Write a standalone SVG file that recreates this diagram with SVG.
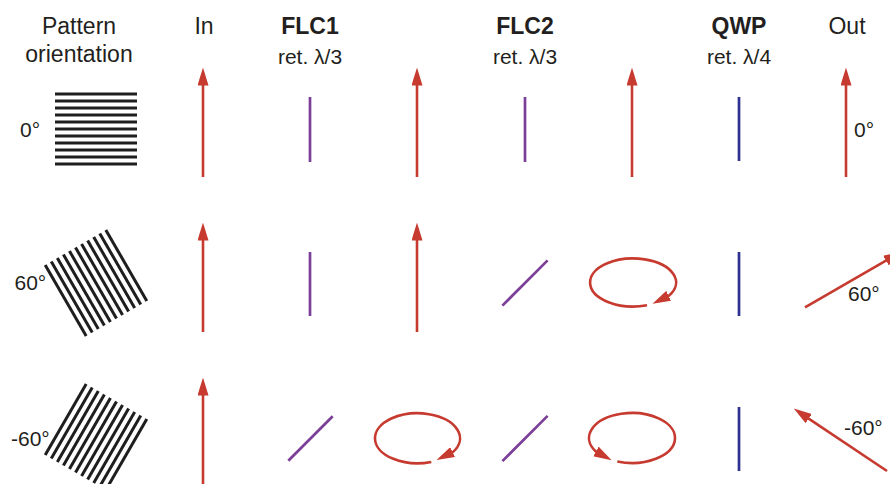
<svg xmlns="http://www.w3.org/2000/svg" xmlns:xlink="http://www.w3.org/1999/xlink" width="890" height="484" viewBox="0 0 890 484">
<style>
text{font-family:"Liberation Sans",Arial,sans-serif;fill:#231f20}
.h{font-size:23px;text-anchor:middle}
.b{font-weight:bold}
.s{font-size:21px;text-anchor:middle}
.d{font-size:21px}
.g line{stroke:#1e1e1e;stroke-width:3}
.arr{stroke:#c63a2f;stroke-width:2.6;fill:none;marker-end:url(#ah)}
.flc{stroke:#7c3f98;stroke-width:2.7}
.qwp{stroke:#2e3192;stroke-width:2.7}
</style>
<defs>
<marker id="ah" markerUnits="userSpaceOnUse" viewBox="0 0 18 11" refX="0.5" refY="5.5" markerWidth="18" markerHeight="11" orient="auto">
<path d="M0,0 L18,5.5 L0,11 z" fill="#c63a2f"/>
</marker>
<g id="grating" class="g">
<line x1="-41" y1="-35" x2="41" y2="-35"/>
<line x1="-41" y1="-28" x2="41" y2="-28"/>
<line x1="-41" y1="-21" x2="41" y2="-21"/>
<line x1="-41" y1="-14" x2="41" y2="-14"/>
<line x1="-41" y1="-7" x2="41" y2="-7"/>
<line x1="-41" y1="0" x2="41" y2="0"/>
<line x1="-41" y1="7" x2="41" y2="7"/>
<line x1="-41" y1="14" x2="41" y2="14"/>
<line x1="-41" y1="21" x2="41" y2="21"/>
<line x1="-41" y1="28" x2="41" y2="28"/>
<line x1="-41" y1="35" x2="41" y2="35"/>
</g>
</defs>

<g id="headers">
<text class="h" x="79" y="33.5">Pattern</text>
<text class="h" x="79" y="62">orientation</text>
<text class="h" x="204" y="34">In</text>
<text class="h b" x="310" y="34">FLC1</text>
<text class="s" x="310" y="64">ret. λ/3</text>
<text class="h b" x="525" y="34">FLC2</text>
<text class="s" x="525" y="64">ret. λ/3</text>
<text class="h b" x="739" y="34">QWP</text>
<text class="s" x="739" y="64">ret. λ/4</text>
<text class="h" x="847" y="34">Out</text>
</g>

<g id="pattern-0">
<use xlink:href="#grating" transform="translate(96,129)"/>
<text class="d" x="20" y="137">0°</text>
</g>
<g id="pattern-60">
<use xlink:href="#grating" transform="translate(96,283) rotate(60)"/>
<text class="d" x="14.5" y="290">60°</text>
</g>
<g id="pattern-m60">
<use xlink:href="#grating" transform="translate(96,437) rotate(-60)"/>
<text class="d" x="11" y="446">-60°</text>
</g>

<g id="retarders">
<line class="flc" x1="310" y1="97" x2="310" y2="162"/>
<line class="flc" x1="525" y1="97" x2="525" y2="162"/>
<line class="qwp" x1="739" y1="97" x2="739" y2="161"/>
<line class="flc" x1="310" y1="252" x2="310" y2="316"/>
<line class="flc" x1="502.4" y1="305.6" x2="547.6" y2="260.4"/>
<line class="qwp" x1="739" y1="252" x2="739" y2="316"/>
<line class="flc" x1="288.3" y1="460.7" x2="332.7" y2="416.3"/>
<line class="flc" x1="502.4" y1="461.1" x2="547.6" y2="415.9"/>
<line class="qwp" x1="739" y1="407" x2="739" y2="471"/>
</g>

<g id="connectors">
<line class="arr" x1="203" y1="177" x2="203" y2="85"/>
<line class="arr" x1="417" y1="177" x2="417" y2="85"/>
<line class="arr" x1="632" y1="177" x2="632" y2="85"/>
<line class="arr" x1="846" y1="177" x2="846" y2="85"/>
<line class="arr" x1="203" y1="332" x2="203" y2="240"/>
<line class="arr" x1="417" y1="332" x2="417" y2="240"/>
<path class="arr" d="M647,305.2 A43,24 0 1,1 669.1,295.6 l-0.9,0.44"/>
<line class="arr" x1="805" y1="307.3" x2="886.4" y2="260.3"/>
<line class="arr" x1="203" y1="487" x2="203" y2="395"/>
<path class="arr" d="M431.3,461.9 A42.5,25 0 1,1 453.1,451.9 l-0.9,0.44"/>
<path class="arr" d="M617.3,461.5 A43,25 0 1,0 595.5,451.2 l0.875,0.485"/>
<line class="arr" x1="887" y1="471" x2="808.3" y2="418.3"/>
</g>

<g id="out-labels">
<text class="d" x="854" y="137">0°</text>
<text class="d" x="848" y="301">60°</text>
<text class="d" x="844" y="435">-60°</text>
</g>
</svg>
